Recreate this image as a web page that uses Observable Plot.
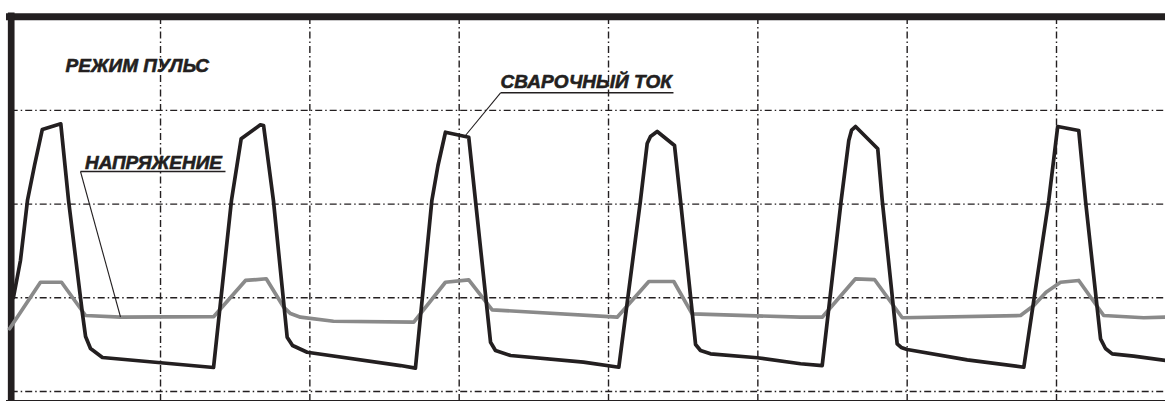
<!DOCTYPE html>
<html>
<head>
<meta charset="utf-8">
<script src="https://cdn.jsdelivr.net/npm/d3@7"></script>
<script src="https://cdn.jsdelivr.net/npm/@observablehq/plot@0.6"></script>
<style>
  html, body { margin: 0; padding: 0; background: #fff; }
  #chart svg { display: block; }
</style>
</head>
<body>
<div id="chart"></div>
<script>
// Time axis in grid divisions, amplitude in grid divisions (0 = bottom grid line)
const currentT = [0.015, 0.062, 0.109, 0.156, 0.208, 0.332, 0.384, 0.477, 0.498, 0.531, 0.611, 1.355,
  1.475, 1.540, 1.669, 1.690, 1.756, 1.848, 1.884, 1.982, 2.607, 2.707,
  2.817, 2.858, 2.908, 3.064, 3.109, 3.210, 3.243, 3.344, 3.832, 4.069,
  4.214, 4.259, 4.281, 4.326, 4.442, 4.482, 4.583, 4.616, 4.683, 4.996, 5.286, 5.431,
  5.558, 5.609, 5.628, 5.654, 5.803, 5.833, 5.933, 5.960, 6.000, 6.402, 6.781,
  6.948, 7.008, 7.149, 7.194, 7.295, 7.328, 7.373, 7.517, 7.730];
const currentV = [1.003, 1.398, 2.039, 2.412, 2.796, 2.857, 2.039, 0.832, 0.587, 0.459, 0.363, 0.256,
  2.039, 2.697, 2.846, 2.839, 2.039, 0.580, 0.491, 0.419, 0.277, 0.249,
  2.039, 2.412, 2.767, 2.714, 2.039, 0.526, 0.438, 0.384, 0.313, 0.259,
  2.039, 2.647, 2.721, 2.775, 2.625, 2.039, 0.502, 0.438, 0.402, 0.360, 0.296, 0.277,
  2.039, 2.679, 2.790, 2.828, 2.590, 2.039, 0.509, 0.470, 0.448, 0.338, 0.259,
  2.039, 2.828, 2.785, 2.039, 0.562, 0.459, 0.402, 0.377, 0.331];

const voltageT = [-0.011, 0.196, 0.337, 0.498, 0.732, 1.357, 1.569, 1.708, 1.825, 1.870, 1.937, 2.158,
  2.696, 2.908, 3.064, 3.221, 4.058, 4.270, 4.437, 4.560, 5.286, 5.431, 5.654, 5.781,
  5.967, 6.759, 6.848, 6.930, 7.027, 7.149, 7.316, 7.584, 7.730];
const voltageV = [0.669, 1.166, 1.166, 0.811, 0.793, 0.800, 1.185, 1.203, 0.900, 0.832, 0.793, 0.750,
  0.740, 1.166, 1.192, 0.872, 0.793, 1.174, 1.174, 0.829, 0.793, 0.793, 1.203, 1.195,
  0.787, 0.811, 0.918, 1.060, 1.166, 1.185, 0.811, 0.787, 0.793];

const gridX = [1, 2, 3, 4, 5, 6, 7];
const gridY = [0, 1, 2, 3];

const labelText = ["РЕЖИМ ПУЛЬС", "СВАРОЧНЫЙ ТОК", "НАПРЯЖЕНИЕ"];
const labelT = [0.364, 3.277, 0.494];
const labelV = [3.480, 3.306, 2.442];

// underline + leader for the two series labels
const underlineT1 = [3.277, 0.464];
const underlineT2 = [4.435, 1.435];
const underlineV = [3.188, 2.348];
const leaderT = [3.042, 0.732];
const leaderV = [2.732, 0.795];

const current = currentT.map((t, i) => ({t, v: currentV[i]}));
const voltage = voltageT.map((t, i) => ({t, v: voltageV[i]}));
const labels = labelText.map((text, i) => ({text, t: labelT[i], v: labelV[i]}));
const notes = underlineT1.map((t1, i) => ({t1, t2: underlineT2[i], v: underlineV[i], lt: leaderT[i], lv: leaderV[i]}));

const ink = "#231f20";
const dash = "7,3,1.5,3";

const chart = Plot.plot({
  width: 1165,
  height: 401,
  marginTop: 0, marginRight: 0, marginBottom: 0, marginLeft: 0,
  x: {domain: [-0.07165, 7.7299], axis: null},
  y: {domain: [-0.1067, 4.1729], axis: null},
  style: {background: "#fff"},
  marks: [
    Plot.ruleX(gridX, {stroke: ink, strokeWidth: 1.4, strokeDasharray: dash, y1: -0.1067, y2: 4}),
    Plot.ruleY(gridY, {stroke: ink, strokeWidth: 1.4, strokeDasharray: dash, x1: 0, x2: 7.7299}),
    // frame: thick top and left, thin bottom
    Plot.ruleY([4], {stroke: ink, strokeWidth: 7, x1: -0.0315, x2: 7.7299}),
    Plot.ruleX([0], {stroke: ink, strokeWidth: 6.7, y1: -0.1067, y2: 4.04}),
    Plot.ruleY([-0.096], {stroke: ink, strokeWidth: 1.2, x1: -0.0315, x2: 7.7299}),
    Plot.line(voltage, {x: "t", y: "v", stroke: "#8a8a8a", strokeWidth: 3.7, strokeLinejoin: "round", strokeLinecap: "round"}),
    Plot.line(current, {x: "t", y: "v", stroke: ink, strokeWidth: 3.7, strokeLinejoin: "round", strokeLinecap: "round"}),
    Plot.link(notes, {x1: "t1", x2: "t2", y1: "v", y2: "v", stroke: ink, strokeWidth: 1.6}),
    Plot.link(notes, {x1: "t1", y1: "v", x2: "lt", y2: "lv", stroke: ink, strokeWidth: 1.1}),
    Plot.text(labels, {x: "t", y: "v", text: "text", textAnchor: "start", fill: ink, stroke: ink, strokeWidth: 0.6,
      fontFamily: "Liberation Sans, Arial, sans-serif", fontSize: 19, fontWeight: "bold", fontStyle: "italic"})
  ]
});
document.getElementById("chart").append(chart);
</script>
</body>
</html>
